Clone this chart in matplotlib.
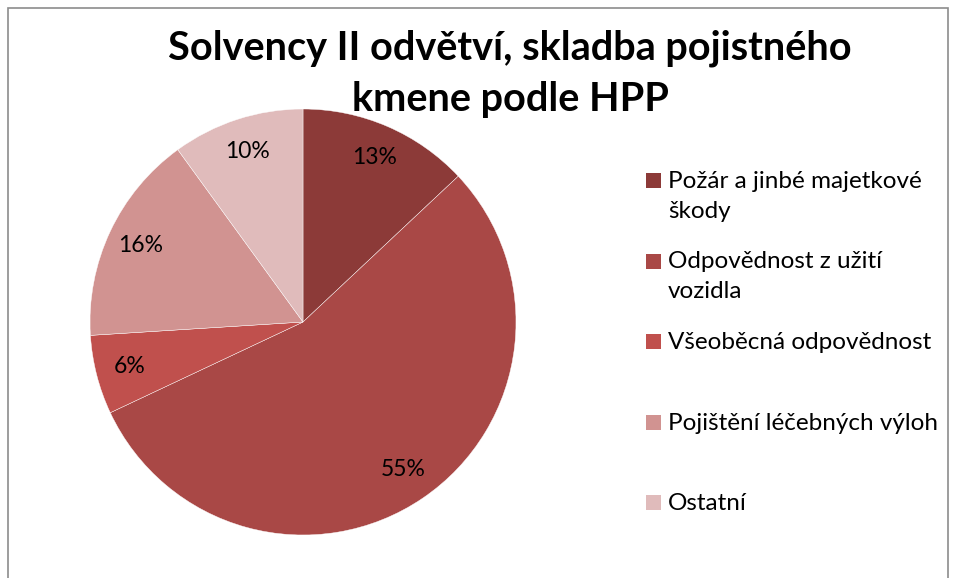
import matplotlib.pyplot as plt
from matplotlib.patches import Rectangle

# data
categories = [
    "Požár a jinbé majetkové\nškody",
    "Odpovědnost z užití\nvozidla",
    "Všeoběcná odpovědnost",
    "Pojištění léčebných výloh",
    "Ostatní",
]
shares = [13, 55, 6, 16, 10]
colors = ["#8C3A38", "#A94846", "#C0504D", "#D19391", "#E0BBBB"]

plt.rcParams["font.family"] = ["Lato", "DejaVu Sans"]

W, H = 955, 578
fig = plt.figure(figsize=(W / 100, H / 100), dpi=100)

# chart frame (bottom edge is cut off in the original)
fig.add_artist(Rectangle((8 / W, -0.05), 940 / W, 1.05 - 8 / H,
                         transform=fig.transFigure, fill=False,
                         edgecolor="#8c8c8c", linewidth=1.2))

# pie
cx, cy, r = 303, 322, 213
ax = fig.add_axes([(cx - r) / W, 1 - (cy + r) / H, 2 * r / W, 2 * r / H])
wedges, texts = ax.pie(
    shares,
    colors=colors,
    startangle=90,
    counterclock=False,
    labels=[f"{v}%" for v in shares],
    labeldistance=0.84,
    wedgeprops=dict(edgecolor="white", linewidth=0.3),
    textprops=dict(fontsize=16.5, color="black"),
)
for t in texts:
    t.set_ha("center")
    t.set_va("center")
ax.set_xlim(-1, 1)
ax.set_ylim(-1, 1)
ax.set_aspect("equal")

# title
fig.text(510 / W, 1 - 48 / H, "Solvency II odvětví, skladba pojistného",
         ha="center", va="center", fontsize=28.5, fontweight="bold")
fig.text(510 / W, 1 - 100 / H, "kmene podle HPP",
         ha="center", va="center", fontsize=28.5, fontweight="bold")

# legend: square next to the first line of each entry
for i, (lab, col) in enumerate(zip(categories, colors)):
    y = 188 + i * 80.5
    fig.add_artist(Rectangle((646 / W, 1 - y / H), 15 / W, 15 / H,
                             transform=fig.transFigure, facecolor=col,
                             edgecolor="none"))
    for j, line in enumerate(lab.split("\n")):
        fig.text(668 / W, 1 - (y + j * 30) / H, line, ha="left",
                 va="baseline", fontsize=17.5)

fig.savefig("out.png", dpi=100)
